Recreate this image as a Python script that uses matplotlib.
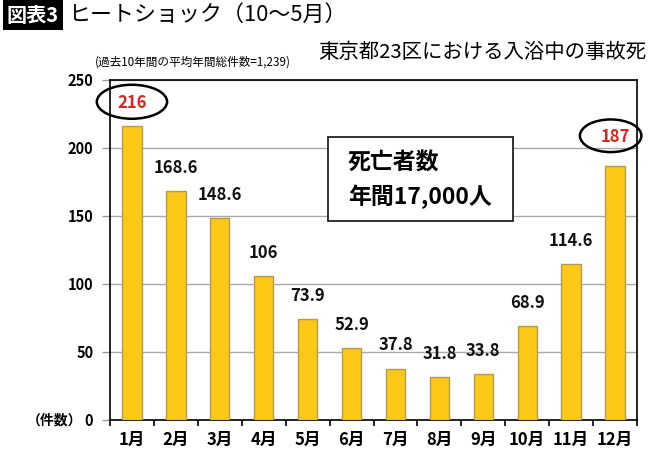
import matplotlib
matplotlib.use("Agg")
import matplotlib.pyplot as plt
from matplotlib.patches import Ellipse

plt.rcParams["font.family"] = ["Noto Sans CJK JP", "DejaVu Sans"]

months = ["1月", "2月", "3月", "4月", "5月", "6月", "7月", "8月", "9月", "10月", "11月", "12月"]
deaths = [216, 168.6, 148.6, 106, 73.9, 52.9, 37.8, 31.8, 33.8, 68.9, 114.6, 187]
labels = ["216", "168.6", "148.6", "106", "73.9", "52.9", "37.8", "31.8", "33.8", "68.9", "114.6", "187"]
highlight = [0, 11]
yticks = [0, 50, 100, 150, 200, 250]

W, H = 670, 455
fig = plt.figure(figsize=(6.7, 4.55), dpi=100)
ax = fig.add_axes([110 / W, 1 - 420 / H, 527 / W, 340 / H])

x = list(range(len(months)))
ax.bar(x, deaths, width=0.44, color="#FDC816", edgecolor="#B09A55", linewidth=1.0, zorder=3)

for i, (v, t) in enumerate(zip(deaths, labels)):
    red = i in highlight
    off = 21 if i == 11 else 17
    ax.text(i, v + off, t, ha="center", va="center", fontsize=12, fontweight="bold",
            color="#D8261E" if red else "#111111", zorder=4)

# circles around the peak months
ax.add_patch(Ellipse((0.0, 234), 1.6, 25, fill=False, edgecolor="black", linewidth=1.8,
                     clip_on=False, zorder=5))
ax.add_patch(Ellipse((10.9, 209), 1.4, 24, fill=False, edgecolor="black", linewidth=1.8,
                     clip_on=False, zorder=5))

ax.set_xlim(-0.5, 11.5)
ax.set_ylim(0, 250)
ax.set_yticks(yticks)
ax.set_yticklabels([str(v) for v in yticks], fontsize=10.5, fontweight="bold")
ax.tick_params(axis="y", length=6, width=1.0, color="#999999", pad=6)
ticks = ax.yaxis.get_major_ticks()
ticks[0].tick1line.set_color("black")
ticks[-1].tick1line.set_color("black")
ax.grid(axis="y", color="#aaaaaa", linewidth=1.0, zorder=0)

ax.set_xticks(x)
ax.set_xticklabels(months, fontsize=12, fontweight="bold")
ax.set_xticks([i - 0.5 for i in range(len(months) + 1)], minor=True)
ax.tick_params(axis="x", which="major", length=0, pad=8)
ax.tick_params(axis="x", which="minor", length=4, width=1.2, color="black")

for s in ax.spines.values():
    s.set_color("black")
    s.set_linewidth(1.2)

ax.text(-1.14, 0, "（件数）", ha="right", va="center", fontsize=10, fontweight="bold")

# death count box
fig.text(348 / W, 1 - 163 / H, "死亡者数", fontsize=16.5, fontweight="bold", va="center", ha="left")
fig.text(348 / W, 1 - 197 / H, "年間17,000人", fontsize=16.5, fontweight="bold", va="center", ha="left")
fig.patches.append(plt.Rectangle((328 / W, 1 - 221 / H), 185 / W, 84 / H, transform=fig.transFigure,
                                 fill=True, facecolor="white", edgecolor="#222222", linewidth=1.3,
                                 zorder=2))

# titles
fig.text(7 / W, 1 - 15 / H, "図表3", fontsize=14.5, fontweight="bold", color="white", va="center",
         ha="left", bbox=dict(facecolor="black", edgecolor="none", pad=3))
fig.text(68 / W, 1 - 15 / H, "ヒートショック（10〜5月）", fontsize=15.8, va="center", ha="left")
fig.text(95 / W, 1 - 62 / H, "(過去10年間の平均年間総件数=1,239)", fontsize=8.4, va="center", ha="left")
fig.text(318 / W, 1 - 52 / H, "東京都23区における入浴中の事故死", fontsize=14.7, va="center", ha="left")

fig.savefig("out.png", dpi=100)
